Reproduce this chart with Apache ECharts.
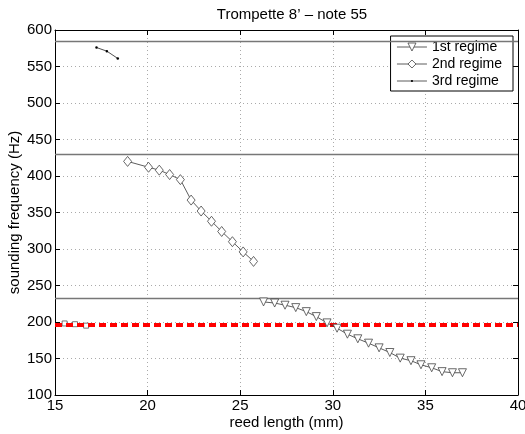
<!DOCTYPE html>
<html>
<head>
<meta charset="utf-8">
<script src="https://cdn.jsdelivr.net/npm/echarts@6/dist/echarts.min.js"></script>
<style>
html, body { margin: 0; padding: 0; background: #fff; }
#main { width: 525px; height: 434px; }
</style>
</head>
<body>
<div id="main"></div>
<script>
// reed length (mm) / frequency (Hz)
var regime1X = [26.26, 26.86, 27.42, 28.0, 28.57, 29.11, 29.69, 30.23, 30.79, 31.35, 31.93, 32.5, 33.08, 33.64, 34.22, 34.76, 35.34, 35.9, 36.46, 37.0];
var regime1Y = [227.5, 226, 223, 219.7, 214.2, 207.4, 198.8, 191.5, 183.3, 177, 171, 164.6, 158.2, 150.5, 147, 141.4, 137.3, 132, 130.5, 130.5];
var regime2X = [18.92, 20.05, 20.63, 21.19, 21.77, 22.35, 22.89, 23.45, 24.0, 24.58, 25.16, 25.72];
var regime2Y = [420, 412, 408, 402, 395, 367, 352, 338, 324, 310, 296, 283];
var regime3X = [17.24, 17.8, 18.39];
var regime3Y = [576, 571, 561];
var lowX = [15.52, 16.08, 16.68];
var lowY = [198, 197, 195];
var resonances = [584, 430, 232];
var playedFreq = 196;
var xTicks = { min: 15, max: 40, step: 5 };
var yTicks = { min: 100, max: 600, step: 50 };

function pairs(xs, ys) {
  var out = [];
  for (var i = 0; i < xs.length; i++) out.push([xs[i], ys[i]]);
  return out;
}

var font = "Liberation Sans";
// small dot centred in a 10x10 box (the extra moves keep the box size)
var dotPath = "path://M0,0M10,10M5,3.6A1.4,1.4,0,1,1,5,6.4A1.4,1.4,0,1,1,5,3.6Z";
var openMarker = { color: "#fff", borderColor: "#444", borderWidth: 0.8 };
var thinLine = { color: "#333", width: 0.8, type: "solid" };

var myChart = echarts.init(document.getElementById("main"));

var axisBase = {
  type: "value",
  axisLine: { show: true, onZero: false, lineStyle: { color: "#000", width: 1 } },
  axisTick: { show: true, inside: true, length: 5, lineStyle: { color: "#000" } }
};

myChart.setOption({
  animation: false,
  title: {
    text: "Trompette 8\u2019 \u2013 note 55",
    left: 287,
    textAlign: "center",
    top: 2,
    textStyle: { fontFamily: font, fontSize: 15, fontWeight: "normal", color: "#000" }
  },
  legend: {
    data: [
      { name: "1st regime", itemStyle: openMarker, lineStyle: thinLine },
      { name: "2nd regime", itemStyle: openMarker, lineStyle: thinLine },
      { name: "3rd regime", itemStyle: { color: "#000", borderWidth: 0 }, lineStyle: thinLine }
    ],
    orient: "vertical",
    right: 12,
    top: 36,
    backgroundColor: "#fff",
    borderColor: "#000",
    borderWidth: 1,
    borderRadius: 0,
    padding: [4, 11, 3, 6],
    itemGap: 3,
    itemWidth: 30,
    itemHeight: 10,
    textStyle: { fontFamily: font, fontSize: 14, color: "#000" }
  },
  grid: { left: 55, right: 7, top: 30, bottom: 39, containLabel: false, outerBoundsMode: "none" },
  xAxis: [
    Object.assign({}, axisBase, {
      min: xTicks.min, max: xTicks.max, interval: xTicks.step,
      position: "bottom",
      name: "reed length (mm)",
      nameLocation: "middle",
      nameGap: 20,
      nameMoveOverlap: false,
      nameTextStyle: { fontFamily: font, fontSize: 15, color: "#000" },
      axisLabel: { fontFamily: font, fontSize: 15, color: "#000", margin: 3 },
      splitLine: { show: true, lineStyle: { color: "#aaa", type: [1, 3], width: 1 } }
    }),
    Object.assign({}, axisBase, {
      min: xTicks.min, max: xTicks.max, interval: xTicks.step,
      position: "top",
      axisLabel: { show: false },
      splitLine: { show: false }
    })
  ],
  yAxis: [
    Object.assign({}, axisBase, {
      min: yTicks.min, max: yTicks.max, interval: yTicks.step,
      position: "left",
      name: "sounding frequency (Hz)",
      nameLocation: "middle",
      nameGap: 33,
      nameMoveOverlap: false,
      nameTextStyle: { fontFamily: font, fontSize: 15, color: "#000" },
      axisLabel: { fontFamily: font, fontSize: 15, color: "#000", margin: 3 },
      splitLine: { show: true, lineStyle: { color: "#aaa", type: [1, 3], width: 1 } }
    }),
    Object.assign({}, axisBase, {
      min: yTicks.min, max: yTicks.max, interval: yTicks.step,
      position: "right",
      axisLabel: { show: false },
      splitLine: { show: false }
    })
  ],
  series: [
    {
      name: "resonances",
      type: "line",
      data: [],
      silent: true,
      markLine: {
        symbol: "none",
        silent: true,
        label: { show: false },
        lineStyle: { color: "#777", type: "solid", width: 1.3 },
        data: resonances.map(function (v) { return { yAxis: v }; })
      }
    },
    {
      name: "played",
      type: "line",
      data: [],
      silent: true,
      z: 3,
      markLine: {
        symbol: "none",
        silent: true,
        label: { show: false },
        lineStyle: { color: "#ff0000", type: [7, 4], width: 4 },
        data: [{ yAxis: playedFreq }]
      }
    },
    {
      name: "low",
      type: "line",
      data: pairs(lowX, lowY),
      symbol: "rect",
      symbolSize: 5,
      z: 4,
      lineStyle: { color: "#555", width: 0.8 },
      itemStyle: { color: "#fff", borderColor: "#555", borderWidth: 0.8 }
    },
    {
      name: "1st regime",
      type: "line",
      data: pairs(regime1X, regime1Y),
      symbol: "triangle",
      symbolRotate: 180,
      symbolSize: 8,
      z: 5,
      lineStyle: thinLine,
      itemStyle: openMarker
    },
    {
      name: "2nd regime",
      type: "line",
      data: pairs(regime2X, regime2Y),
      symbol: "diamond",
      symbolSize: [8, 10],
      z: 5,
      lineStyle: thinLine,
      itemStyle: openMarker
    },
    {
      name: "3rd regime",
      type: "line",
      data: pairs(regime3X, regime3Y),
      symbol: dotPath,
      symbolSize: 9,
      z: 5,
      lineStyle: { color: "#222", width: 0.8 },
      itemStyle: { color: "#000", borderWidth: 0 }
    }
  ]
});
</script>
</body>
</html>
